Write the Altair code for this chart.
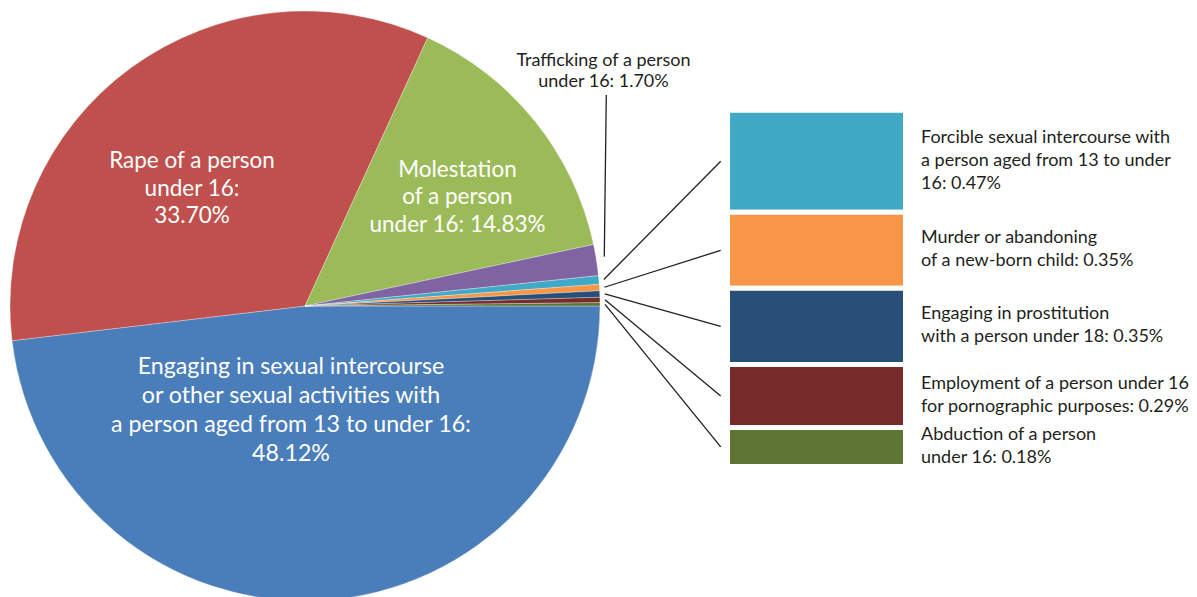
import math
import altair as alt
import pandas as pd

# ---- data ----
categories = [
    "Engaging in sexual intercourse or other sexual activities with a person aged from 13 to under 16",
    "Rape of a person under 16",
    "Molestation of a person under 16",
    "Trafficking of a person under 16",
    "Forcible sexual intercourse with a person aged from 13 to under 16",
    "Murder or abandoning of a new-born child",
    "Engaging in prostitution with a person under 18",
    "Employment of a person under 16 for pornographic purposes",
    "Abduction of a person under 16",
]
values = [48.12, 33.70, 14.83, 1.70, 0.47, 0.35, 0.35, 0.29, 0.18]
colors = ["#4A7EBB", "#C0504D", "#9BBB59", "#8064A2", "#40AAC6",
          "#F79646", "#284F78", "#772B2B", "#5F7533"]
small_labels = [
    ["Forcible sexual intercourse with", "a person aged from 13 to under", "16: 0.47%"],
    ["Murder or abandoning", "of a new-born child: 0.35%"],
    ["Engaging in prostitution", "with a person under 18: 0.35%"],
    ["Employment of a person under 16", "for pornographic purposes: 0.29%"],
    ["Abduction of a person", "under 16: 0.18%"],
]
blue_label = ["Engaging in sexual intercourse", "or other sexual activities with",
              "a person aged from 13 to under 16:", "48.12%"]
red_label = ["Rape of a person", "under 16:", "33.70%"]
green_label = ["Molestation", "of a person", "under 16: 14.83%"]
purple_label = ["Trafficking of a person", "under 16: 1.70%"]

# ---- layout constants ----
W, H = 1181, 589
CX, CY, R = 297, 298, 295
FONT = "Lato"
TXT = "#231F20"
BAR_TOP, BAR_BOT = 102.2, 458.5
BAR_X0, BAR_X1 = 719.5, 897.5
START_ANGLE = math.pi / 2
SIDE_LH = 22.8

pie_df = pd.DataFrame({"cat": categories, "value": values, "order": list(range(len(values)))})

# cumulative angles (clockwise from 12 o'clock, starting at 3 o'clock)
tot = sum(values)
cum = 0.0
mids = []
for v in values:
    mids.append(START_ANGLE + 2 * math.pi * (cum + v / 2) / tot)
    cum += v
pie_df["mid"] = mids

small = pie_df.iloc[4:].copy().reset_index(drop=True)
small_tot = small["value"].sum()
# stack from the bottom (last category at the bottom)
lo = []
acc = 0.0
for v in small["value"][::-1]:
    lo.append(acc)
    acc += v
small["lo"] = lo[::-1]
small["hi"] = small["lo"] + small["value"]
small["midv"] = (small["lo"] + small["hi"]) / 2

units_per_px = small_tot / (BAR_BOT - BAR_TOP)

# one row per text line, centred on the middle of each bar
rows = []
for i, lines in enumerate(small_labels):
    n = len(lines)
    for j, line in enumerate(lines):
        off_px = (j - (n - 1) / 2) * SIDE_LH - 0.5
        rows.append({"line": line, "ty": small["midv"][i] - off_px * units_per_px})
side_text_df = pd.DataFrame(rows)

# leader line starts at the pie edge, expressed in bar-scale units
RL = 300
small["sx"] = CX + RL * small["mid"].apply(math.sin)
sy = CY - RL * small["mid"].apply(math.cos)
small["sy"] = (BAR_BOT - sy) * units_per_px

color_scale = alt.Scale(domain=categories, range=colors)
yscale = alt.Scale(domain=[0, small_tot], range=[BAR_BOT, BAR_TOP])
xpix = alt.Scale(domain=[0, W], range=[0, W])

pie = alt.Chart(pie_df).mark_arc(outerRadius=R, stroke="#ffffff", strokeWidth=0.3).encode(
    theta=alt.Theta("value:Q", stack=True,
                    scale=alt.Scale(range=[START_ANGLE, START_ANGLE + 2 * math.pi])),
    color=alt.Color("cat:N", scale=color_scale, legend=None),
    order=alt.Order("order:Q"),
    x=alt.value(CX), y=alt.value(CY),
)

bars = alt.Chart(small).mark_rect(stroke="#ffffff", strokeWidth=5).encode(
    x=alt.value(BAR_X0), x2=alt.value(BAR_X1),
    y=alt.Y("hi:Q", scale=yscale, axis=None), y2="lo:Q",
    color=alt.Color("cat:N", scale=color_scale, legend=None),
)

leaders = alt.Chart(small).mark_rule(color=TXT, strokeWidth=1.3).encode(
    x=alt.X("sx:Q", scale=xpix, axis=None), x2=alt.value(712.7),
    y=alt.Y("sy:Q", scale=yscale, axis=None), y2="midv:Q",
)

right_text = alt.Chart(side_text_df).mark_text(
    align="left", baseline="middle", font=FONT, fontSize=18, color=TXT,
).encode(
    x=alt.value(913), y=alt.Y("ty:Q", scale=yscale, axis=None), text="line:N",
)

purple = pie_df.iloc[[3]].copy()
pmid = purple["mid"].iloc[0]
RP = 304
psx = CX + RP * math.sin(pmid)
psy = CY - RP * math.cos(pmid)
purple_line = alt.Chart(purple).mark_rule(color=TXT, strokeWidth=1.3).encode(
    x=alt.value(psx - 1), y=alt.value(psy - 2), x2=alt.value(psx + 1), y2=alt.value(87),
)


def label(lines, x, y, size, lh, color):
    return alt.Chart(purple).mark_text(
        text=lines, x=x, y=y, align="center", baseline="alphabetic",
        font=FONT, fontSize=size, lineHeight=lh, color=color,
    ).encode(opacity=alt.value(1))


labels = [
    label(red_label, 184, 160, 22.5, 27.5, "#ffffff"),
    label(green_label, 449.5, 168.7, 22.5, 27.5, "#ffffff"),
    label(blue_label, 283, 365.5, 23.2, 29, "#ffffff"),
    label(purple_label, 595.5, 57.5, 18, 21.5, TXT),
]

chart = alt.layer(pie, bars, leaders, right_text, purple_line, *labels).properties(
    width=W, height=H, padding=0,
    autosize=alt.AutoSizeParams(type="none"),
).configure_view(strokeWidth=0)

chart.save("out.html", embed_options={"renderer": "svg", "actions": False})
